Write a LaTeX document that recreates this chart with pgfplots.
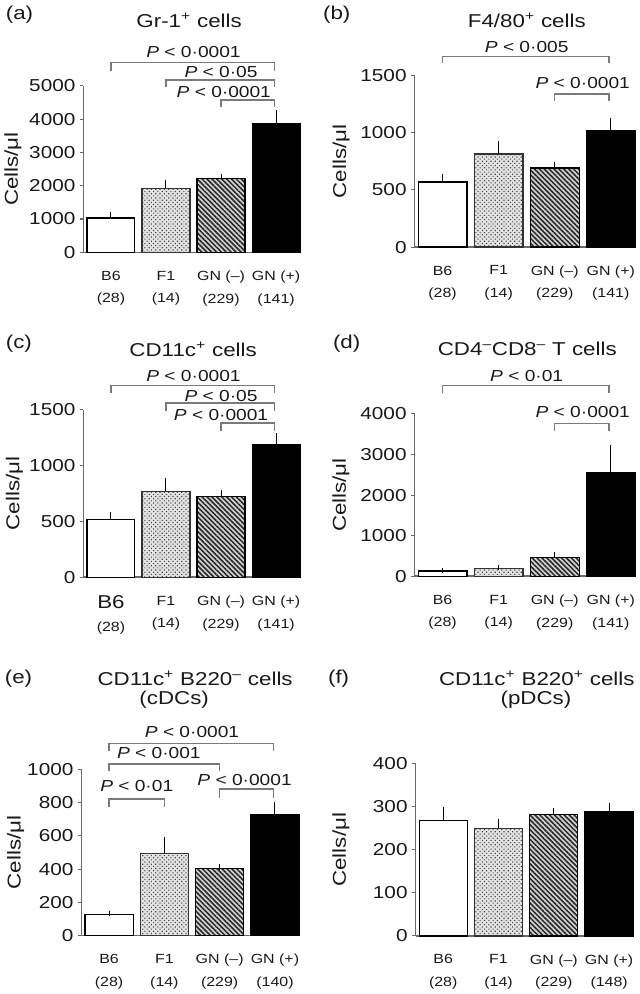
\documentclass[border=0pt]{standalone}
\usepackage{fontspec}
\setmainfont{Liberation Sans}[FakeStretch=1.2]
\usepackage{pgfplots}
\pgfplotsset{compat=1.18}
\usetikzlibrary{patterns.meta}
\definecolor{axgray}{gray}{0.42}
\definecolor{brgray}{gray}{0.48}
\definecolor{txt}{gray}{0.1}

\pgfplotsset{
 panel/.style={
  scale only axis, clip=false,
  axis x line*=bottom, axis y line*=left,
  axis line style={axgray, line width=1.1pt},
  xmin=-0.5, xmax=3.45, ymin=0,
  xtick={0,1,2,3},
  xtick style={draw=none},
  ytick style={axgray, line width=0.8pt},
  tick align=outside, major tick length=2.5pt,
  yticklabel style={font=\fontsize{13}{15}\selectfont, color=txt, /pgf/number format/assume math mode=true, /pgf/number format/set thousands separator={}},
  xticklabel style={font=\fontsize{10}{17}\selectfont, align=center, color=txt, yshift=-8pt},
  ylabel={Cells/μl},
  ylabel style={font=\fontsize{14}{16}\selectfont, color=txt, anchor=center},
 },
 ylpos/.style={ylabel style={at={(axis description cs:#1,0.5)}}},
 ebar/.style={error bars/.cd, y dir=plus, y explicit, error bar style={black, line width=0.75pt}, error mark options={black, mark size=2pt, line width=0.75pt}},
 wbar/.style={ybar, bar width=0.87, draw=black, line width=0.9pt, fill=white, ebar},
 dbar/.style={ybar, bar width=0.87, draw=black!80, line width=0.9pt, fill=gray!22, postaction={pattern={Dots[distance=2.3pt, radius=0.6pt, angle=45]}, pattern color=gray!55!black}, ebar},
 lbar/.style={ybar, bar width=0.87, draw=black, line width=0.9pt, fill=gray!35, postaction={pattern={Lines[angle=-45, distance=2.6pt, line width=1.15pt]}, pattern color=black!85}, ebar},
 kbar/.style={ybar, bar width=0.87, draw=black, line width=0.9pt, fill=black, ebar},
}
\tikzset{
 brk/.style={brgray, line width=1.1pt},
 plab/.style={font=\fontsize{12}{14}\selectfont, color=txt, inner sep=0pt},
 ttl/.style={font=\fontsize{14}{16}\selectfont, color=txt, inner sep=0pt},
}

\begin{document}
\begin{tikzpicture}
\path (0pt,0pt) rectangle (477pt,745.5pt);

% ---------- (a) ----------
\begin{axis}[panel, at={(59.25pt,555.75pt)}, anchor=south west, width=163.5pt, height=125.25pt,
  ymax=5000, ytick={0,1000,2000,3000,4000,5000}, ylpos=-0.324,
  xticklabels={{B6\\(28)},{F1\\(14)},{GN (–)\\(229)},{GN (+)\\(141)}}]
\addplot[wbar] coordinates {(0,1030) +- (0,100)};
\addplot[dbar] coordinates {(1,1920) +- (0,180)};
\addplot[lbar] coordinates {(2,2220) +- (0,60)};
\addplot[kbar] coordinates {(3,3850) +- (0,330)};
\draw[brk] (axis cs:0,5450) |- (axis cs:2.97,5700) -- (axis cs:2.97,5450);
\draw[brk] (axis cs:1,4970) |- (axis cs:2.97,5180) -- (axis cs:2.97,4970);
\draw[brk] (axis cs:2,4350) |- (axis cs:2.97,4570) -- (axis cs:2.97,4350);
\node[plab] at (axis cs:1.5,6000) {\textit{P} < 0·0001};
\node[plab] at (axis cs:2.0,5400) {\textit{P} < 0·05};
\node[plab] at (axis cs:2.05,4820) {\textit{P} < 0·0001};
\end{axis}
\node[ttl] at (138.75pt,729.975pt) {Gr-1\textsuperscript{+} cells};
\node[ttl, anchor=west] at (0.75pt,734.25pt) {(a)};

% ---------- (b) ----------
\begin{axis}[panel, at={(308.25pt,559.725pt)}, anchor=south west, width=166.5pt, height=128.8pt,
  ymax=1500, ytick={0,500,1000,1500}, ylpos=-0.331,
  xticklabels={{B6\\(28)},{F1\\(14)},{GN (–)\\(229)},{GN (+)\\(141)}}]
\addplot[wbar] coordinates {(0,570) +- (0,50)};
\addplot[dbar] coordinates {(1,815) +- (0,90)};
\addplot[lbar] coordinates {(2,693) +- (0,32)};
\addplot[kbar] coordinates {(3,1020) +- (0,90)};
\draw[brk] (axis cs:0,1611) |- (axis cs:2.97,1669) -- (axis cs:2.97,1611);
\draw[brk] (axis cs:2,1282) |- (axis cs:2.97,1340) -- (axis cs:2.97,1282);
\node[plab] at (axis cs:1.5,1756) {\textit{P} < 0·005};
\node[plab] at (axis cs:2.5,1436) {\textit{P} < 0·0001};
\end{axis}
\node[ttl] at (392.625pt,730.5pt) {F4/80\textsuperscript{+} cells};
\node[ttl, anchor=west] at (239.25pt,734.25pt) {(b)};

% ---------- (c) ----------
\begin{axis}[panel, at={(59.25pt,311.475pt)}, anchor=south west, width=163.5pt, height=125.8pt,
  ymax=1500, ytick={0,500,1000,1500}, ylpos=-0.317,
  xticklabels={{{\fontsize{14}{14}\selectfont B6}\\(28)},{F1\\(14)},{GN (–)\\(229)},{GN (+)\\(141)}}]
\addplot[wbar] coordinates {(0,516) +- (0,48)};
\addplot[dbar] coordinates {(1,772) +- (0,90)};
\addplot[lbar] coordinates {(2,725) +- (0,30)};
\addplot[kbar] coordinates {(3,1187) +- (0,83)};
\draw[brk] (axis cs:0,1649) |- (axis cs:2.97,1718) -- (axis cs:2.97,1649);
\draw[brk] (axis cs:1,1494) |- (axis cs:2.97,1563) -- (axis cs:2.97,1494);
\draw[brk] (axis cs:2,1315) |- (axis cs:2.97,1381) -- (axis cs:2.97,1315);
\node[plab] at (axis cs:1.5,1807) {\textit{P} < 0·0001};
\node[plab] at (axis cs:2.0,1628) {\textit{P} < 0·05};
\node[plab] at (axis cs:2.0,1455) {\textit{P} < 0·0001};
\end{axis}
\node[ttl] at (141.75pt,483pt) {CD11c\textsuperscript{+} cells};
\node[ttl, anchor=west] at (0.75pt,486.75pt) {(c)};

% ---------- (d) ----------
\begin{axis}[panel, at={(308.25pt,312.225pt)}, anchor=south west, width=166.5pt, height=122pt,
  ymax=4000, ytick={0,1000,2000,3000,4000}, ylpos=-0.333,
  xticklabels={{B6\\(28)},{F1\\(14)},{GN (–)\\(229)},{GN (+)\\(141)}}]
\addplot[wbar] coordinates {(0,130) +- (0,18)};
\addplot[dbar] coordinates {(1,185) +- (0,35)};
\addplot[lbar] coordinates {(2,460) +- (0,70)};
\addplot[kbar] coordinates {(3,2565) +- (0,615)};
\draw[brk] (axis cs:0,4508) |- (axis cs:2.97,4697) -- (axis cs:2.97,4508);
\draw[brk] (axis cs:2,3590) |- (axis cs:2.97,3770) -- (axis cs:2.97,3590);
\node[plab] at (axis cs:1.5,4943) {\textit{P} < 0·01};
\node[plab] at (axis cs:2.5,4041) {\textit{P} < 0·0001};
\end{axis}
\node[ttl] at (393pt,483pt) {CD4\textsuperscript{–}CD8\textsuperscript{–} T cells};
\node[ttl, anchor=west] at (246.75pt,486.75pt) {(d)};

% ---------- (e) ----------
\begin{axis}[panel, at={(57.75pt,42pt)}, anchor=south west, width=164.25pt, height=125pt,
  ymax=1000, ytick={0,200,400,600,800,1000}, ylpos=-0.301,
  xticklabels={{B6\\(28)},{F1\\(14)},{GN (–)\\(229)},{GN (+)\\(140)}}]
\addplot[wbar] coordinates {(0,125) +- (0,10)};
\addplot[dbar] coordinates {(1,495) +- (0,85)};
\addplot[lbar] coordinates {(2,403) +- (0,10)};
\addplot[kbar] coordinates {(3,730) +- (0,60)};
\draw[brk] (axis cs:0,1110) |- (axis cs:2.97,1156) -- (axis cs:2.97,1110);
\draw[brk] (axis cs:0,990) |- (axis cs:2,1032) -- (axis cs:2,990);
\draw[brk] (axis cs:0,776) |- (axis cs:1,822) -- (axis cs:1,776);
\draw[brk] (axis cs:2,830) |- (axis cs:2.97,882) -- (axis cs:2.97,830);
\node[plab] at (axis cs:1.5,1222) {\textit{P} < 0·0001};
\node[plab] at (axis cs:0.9,1096) {\textit{P} < 0·001};
\node[plab] at (axis cs:0.5,900) {\textit{P} < 0·01};
\node[plab] at (axis cs:2.45,936) {\textit{P} < 0·0001};
\end{axis}
\node[ttl] at (143.25pt,235.5pt) {CD11c\textsuperscript{+} B220\textsuperscript{–} cells};
\node[ttl] at (127.5pt,219.225pt) {(cDCs)};
\node[ttl, anchor=west] at (0pt,235.5pt) {(e)};

% ---------- (f) ----------
\begin{axis}[panel, at={(309pt,41.775pt)}, anchor=south west, width=164.25pt, height=129.5pt,
  ymax=400, ytick={0,100,200,300,400}, ylpos=-0.342,
  xticklabels={{B6\\(28)},{F1\\(14)},{GN (–)\\(229)},{GN (+)\\(148)}}]
\addplot[wbar] coordinates {(0,268) +- (0,25)};
\addplot[dbar] coordinates {(1,250) +- (0,16)};
\addplot[lbar] coordinates {(2,282) +- (0,9)};
\addplot[kbar] coordinates {(3,288) +- (0,14)};
\end{axis}
\node[ttl] at (400.125pt,235.5pt) {CD11c\textsuperscript{+} B220\textsuperscript{+} cells};
\node[ttl] at (399.525pt,219.225pt) {(pDCs)};
\node[ttl, anchor=west] at (243pt,235.5pt) {(f)};
\end{tikzpicture}
\end{document}
